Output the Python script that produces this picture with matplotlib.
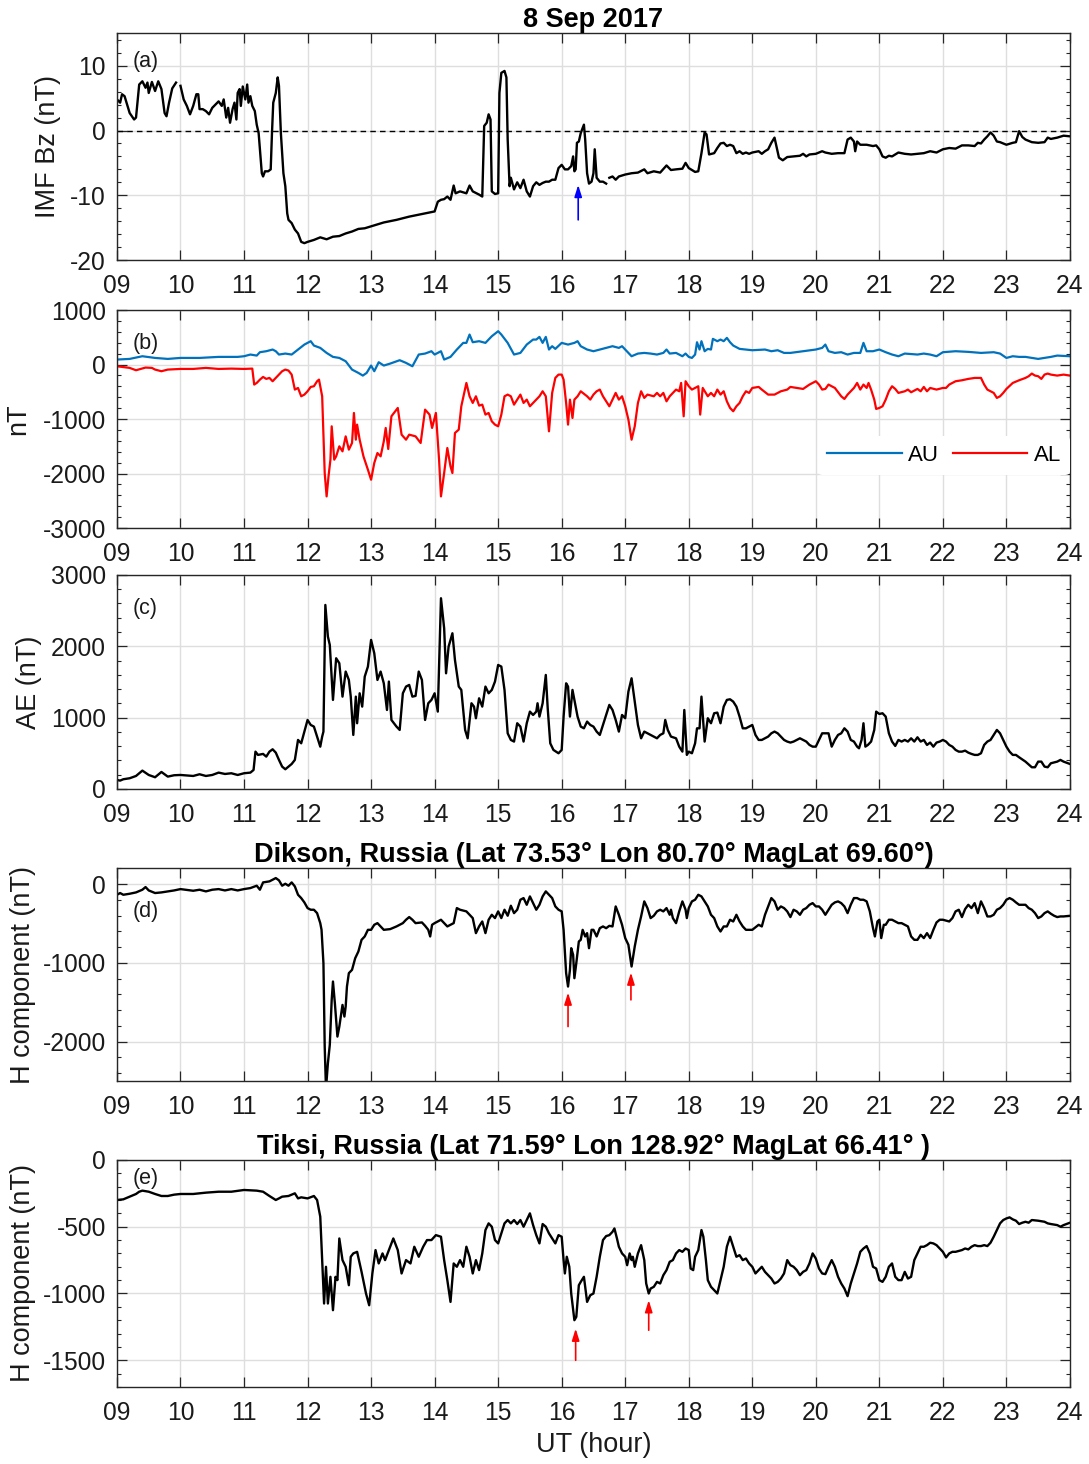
import numpy as np
import matplotlib
matplotlib.use("Agg")
import matplotlib.pyplot as plt
from matplotlib.ticker import AutoMinorLocator

plt.rcParams['font.family'] = ['Liberation Sans', 'DejaVu Sans']
plt.rcParams['axes.unicode_minus'] = False

# ---------------- data (UT hours / nT) ----------------
hours = list(range(9, 25))
hour_labels = ['%02d' % h for h in hours]

# (a) IMF Bz, nan = data gap
bz_t = [9.00, 9.05, 9.08, 9.12, 9.20, 9.27, 9.30, 9.35, 9.40, 9.45, 9.48, 9.50, 9.55, 9.60,
        9.65, 9.70, 9.75, 9.78, 9.82, 9.87, 9.93, 9.96, 10.00, 10.05, 10.10, 10.15, 10.20,
        10.25, 10.28, 10.30, 10.35, 10.40, 10.45, 10.50, 10.55, 10.60, 10.65, 10.68, 10.72,
        10.75, 10.78, 10.82, 10.85, 10.88, 10.90, 10.93, 10.95, 10.98, 11.02, 11.05, 11.07,
        11.10, 11.13, 11.17, 11.20, 11.23, 11.25, 11.28, 11.30, 11.33, 11.38, 11.42, 11.44,
        11.46, 11.50, 11.53, 11.55, 11.58, 11.62, 11.65, 11.68, 11.70, 11.75, 11.80, 11.85,
        11.90, 11.95, 12.00, 12.10, 12.20, 12.30, 12.40, 12.50, 12.60, 12.70, 12.80, 12.90,
        13.00, 13.20, 13.40, 13.60, 13.80, 14.00, 14.05, 14.10, 14.15, 14.20, 14.25, 14.30,
        14.33, 14.40, 14.50, 14.55, 14.60, 14.70, 14.75, 14.78, 14.82, 14.85, 14.88, 14.90,
        14.95, 15.00, 15.02, 15.05, 15.10, 15.13, 15.15, 15.18, 15.20, 15.25, 15.30, 15.35,
        15.40, 15.45, 15.50, 15.55, 15.60, 15.65, 15.70, 15.75, 15.80, 15.85, 15.90, 15.95,
        16.00, 16.05, 16.10, 16.15, 16.18, 16.20, 16.22, 16.24, 16.27, 16.30, 16.33, 16.35,
        16.37, 16.40, 16.43, 16.47, 16.50, 16.52, 16.55, 16.60, 16.65, 16.70, 16.72, 16.75,
        16.80, 16.85, 16.90, 17.00, 17.10, 17.20, 17.30, 17.35, 17.45, 17.55, 17.65, 17.72,
        17.80, 17.90, 17.95, 18.00, 18.10, 18.15, 18.20, 18.25, 18.28, 18.32, 18.40, 18.45,
        18.50, 18.55, 18.60, 18.65, 18.70, 18.75, 18.80, 18.85, 18.90, 18.95, 19.00, 19.10,
        19.15, 19.20, 19.25, 19.30, 19.35, 19.38, 19.42, 19.48, 19.55, 19.65, 19.75, 19.80,
        19.85, 19.90, 20.00, 20.10, 20.15, 20.25, 20.35, 20.45, 20.50, 20.55, 20.60, 20.62,
        20.65, 20.70, 20.80, 20.90, 20.95, 21.00, 21.05, 21.10, 21.15, 21.20, 21.30, 21.40,
        21.50, 21.60, 21.70, 21.80, 21.90, 22.00, 22.10, 22.20, 22.30, 22.40, 22.50, 22.55,
        22.60, 22.65, 22.70, 22.75, 22.80, 22.85, 22.90, 22.95, 23.00, 23.10, 23.15, 23.20,
        23.25, 23.30, 23.40, 23.50, 23.60, 23.65, 23.70, 23.80, 23.90, 24.00]
bz = [4.8, 4.3, 5.6, 5.3, 2.7, 1.7, 2.0, 7.1, 7.6, 6.6, 7.4, 5.8, 7.5, 6.1,
      7.6, 6.4, 2.7, 2.2, 4.3, 6.5, 7.4, np.nan, 6.9, 4.8, 3.8, 2.5, 3.8,
      5.6, 5.6, 3.3, 3.3, 3.0, 2.5, 3.5, 4.0, 4.5, 3.8, 4.8, 2.0,
      3.5, 1.2, 3.3, 4.3, 1.7, 5.8, 6.4, 3.8, 6.8, 4.8, 7.1, 4.3,
      5.3, 3.8, 3.0, 0.9, -0.4, -2.9, -6.6, -7.1, -6.3, -6.3, -6.0, -0.4,
      4.3, 5.8, 8.2, 6.9, -0.4, -6.6, -8.6, -12.8, -13.8, -14.3, -15.3, -15.9,
      -17.2, -17.4, -17.2, -16.9, -16.5, -16.8, -16.4, -16.3, -15.9, -15.6, -15.2, -15.1,
      -14.8, -14.2, -13.8, -13.3, -12.9, -12.5, -11.0, -10.7, -10.6, -10.2, -10.7, -8.5,
      -9.7, -9.4, -9.7, -8.5, -9.4, -9.9, -10.2, 0.7, 1.2, 2.5, 1.7, -9.4,
      -9.8, -9.7, 5.8, 8.9, 9.2, 8.2, -1.4, -8.6, -7.3, -9.1, -8.0, -8.9,
      -7.6, -9.4, -10.2, -8.6, -8.0, -8.4, -8.1, -7.9, -7.9, -7.6, -7.6, -5.8,
      -5.3, -6.0, -6.0, -5.5, -4.0, -6.3, -6.0, -1.9, -1.7, -0.4, 0.4, 0.9,
      -1.4, -6.6, -8.2, -7.9, -6.6, -2.9, -7.3, -7.9, -7.9, -8.2, np.nan, -7.3,
      -7.1, -7.6, -7.1, -6.8, -6.6, -6.5, -6.0, -6.6, -6.3, -6.5, -5.4, -6.1,
      -6.0, -5.9, -5.0, -5.8, -6.4, -6.3, -3.5, -0.3, -0.6, -3.7, -3.5, -2.7,
      -2.0, -1.9, -2.4, -2.2, -2.4, -3.5, -3.2, -3.6, -3.4, -3.6, -3.4, -3.2,
      -3.6, -3.2, -2.9, -1.9, -1.1, -2.4, -4.2, -4.6, -4.1, -4.0, -3.9, -3.6,
      -4.0, -3.7, -3.6, -3.2, -3.4, -3.6, -3.5, -3.5, -1.4, -1.1, -1.7, -3.2,
      -1.7, -2.2, -2.2, -2.4, -2.3, -2.9, -4.0, -4.2, -3.9, -4.0, -3.4, -3.6,
      -3.7, -3.6, -3.5, -3.2, -3.4, -2.9, -2.7, -2.8, -2.3, -2.3, -2.4, -1.9,
      -2.0, -1.4, -0.9, -0.3, -0.8, -1.7, -1.8, -2.0, -2.2, -1.9, -1.8, -0.1,
      -1.0, -1.4, -1.8, -1.9, -1.8, -1.1, -1.3, -1.1, -0.8, -0.9]

# (b) AU and AL indices
au_t = [9.0, 9.2, 9.4, 9.6, 9.8, 10.0, 10.3, 10.6, 10.9, 11.0, 11.1, 11.2, 11.25, 11.35,
        11.45, 11.5, 11.55, 11.65, 11.75, 11.85, 11.95, 12.05, 12.1, 12.2, 12.3, 12.4, 12.5,
        12.6, 12.7, 12.8, 12.87, 12.93, 13.0, 13.05, 13.12, 13.2, 13.3, 13.45, 13.55, 13.65,
        13.75, 13.85, 13.95, 14.0, 14.1, 14.15, 14.25, 14.35, 14.45, 14.5, 14.55, 14.6, 14.7,
        14.8, 14.9, 15.0, 15.05, 15.15, 15.25, 15.35, 15.45, 15.55, 15.6, 15.65, 15.7, 15.75,
        15.8, 15.85, 15.9, 16.0, 16.1, 16.2, 16.25, 16.3, 16.4, 16.5, 16.6, 16.7, 16.8, 16.9,
        16.95, 17.0, 17.1, 17.2, 17.3, 17.4, 17.5, 17.6, 17.65, 17.7, 17.8, 17.9, 17.95, 18.0,
        18.05, 18.1, 18.13, 18.17, 18.2, 18.25, 18.3, 18.35, 18.38, 18.45, 18.5, 18.55, 18.6,
        18.65, 18.7, 18.8, 18.9, 19.0, 19.2, 19.3, 19.4, 19.5, 19.6, 19.8, 20.0, 20.1, 20.15,
        20.2, 20.3, 20.4, 20.5, 20.6, 20.7, 20.75, 20.8, 20.9, 21.0, 21.1, 21.2, 21.3, 21.4,
        21.6, 21.7, 21.8, 21.9, 22.0, 22.2, 22.4, 22.6, 22.8, 22.9, 23.0, 23.1, 23.2, 23.3,
        23.4, 23.5, 23.6, 23.7, 23.8, 24.0]
au = [92, 104, 153, 122, 104, 122, 122, 141, 141, 153, 184, 165, 227, 245,
      276, 245, 184, 202, 184, 276, 367, 429, 349, 306, 214, 141, 122,
      61, -92, -153, -202, -153, -18, -122, 43, -18, 18, 80, 31, -31,
      184, 202, 245, 184, 245, 92, 141, 276, 398, 398, 551, 410, 429,
      398, 520, 612, 551, 398, 184, 214, 367, 459, 459, 508, 398, 508,
      276, 337, 288, 398, 367, 398, 429, 337, 276, 245, 276, 306, 337, 306,
      337, 276, 153, 202, 214, 202, 184, 214, 276, 202, 214, 153, 202, 141,
      122, 184, 410, 276, 429, 245, 288, 276, 472, 429, 459, 429, 490,
      410, 349, 288, 276, 263, 276, 245, 263, 214, 214, 245, 276, 306, 367,
      245, 214, 227, 184, 214, 214, 398, 245, 245, 276, 227, 184, 153, 202,
      184, 202, 184, 153, 227, 245, 233, 214, 227, 202, 122, 153, 141, 141,
      122, 104, 122, 141, 165, 153]

al_t = [9.0, 9.2, 9.3, 9.45, 9.55, 9.6, 9.7, 9.8, 10.0, 10.2, 10.4, 10.6, 10.8, 11.0, 11.13,
        11.16, 11.2, 11.25, 11.3, 11.35, 11.4, 11.45, 11.5, 11.55, 11.6, 11.65, 11.7, 11.75,
        11.8, 11.85, 11.9, 11.95, 12.0, 12.05, 12.1, 12.15, 12.18, 12.2, 12.23, 12.27, 12.3,
        12.33, 12.36, 12.38, 12.42, 12.45, 12.5, 12.55, 12.6, 12.65, 12.7, 12.73, 12.76, 12.78,
        12.82, 12.88, 12.95, 13.0, 13.05, 13.1, 13.15, 13.2, 13.23, 13.27, 13.32, 13.38, 13.42,
        13.48, 13.55, 13.6, 13.7, 13.78, 13.85, 13.92, 13.96, 14.02, 14.07, 14.1, 14.15, 14.2,
        14.25, 14.28, 14.32, 14.38, 14.42, 14.5, 14.55, 14.6, 14.65, 14.7, 14.75, 14.8, 14.85,
        14.9, 14.95, 15.0, 15.05, 15.1, 15.15, 15.2, 15.25, 15.3, 15.35, 15.4, 15.45, 15.5,
        15.55, 15.6, 15.65, 15.7, 15.75, 15.8, 15.85, 15.9, 15.95, 16.0, 16.03, 16.07, 16.1,
        16.13, 16.17, 16.2, 16.25, 16.3, 16.4, 16.45, 16.5, 16.55, 16.6, 16.65, 16.7, 16.75,
        16.8, 16.85, 16.9, 16.95, 17.0, 17.05, 17.1, 17.15, 17.2, 17.25, 17.3, 17.35, 17.45,
        17.5, 17.55, 17.6, 17.65, 17.7, 17.8, 17.85, 17.88, 17.92, 17.95, 18.0, 18.05, 18.1,
        18.15, 18.18, 18.22, 18.3, 18.35, 18.4, 18.45, 18.5, 18.55, 18.6, 18.65, 18.7, 18.75,
        18.8, 18.85, 18.9, 18.95, 19.0, 19.1, 19.15, 19.25, 19.35, 19.45, 19.55, 19.6, 19.7,
        19.8, 19.9, 20.0, 20.05, 20.1, 20.15, 20.2, 20.3, 20.4, 20.45, 20.5, 20.6, 20.65, 20.7,
        20.75, 20.8, 20.83, 20.87, 20.92, 20.95, 21.0, 21.05, 21.1, 21.15, 21.2, 21.25, 21.3,
        21.4, 21.45, 21.5, 21.6, 21.65, 21.7, 21.75, 21.8, 21.9, 22.0, 22.05, 22.1, 22.2, 22.3,
        22.4, 22.5, 22.6, 22.65, 22.7, 22.8, 22.85, 22.9, 22.95, 23.0, 23.1, 23.2, 23.3, 23.35,
        23.4, 23.45, 23.5, 23.55, 23.6, 23.65, 23.7, 23.8, 23.9, 24.0]
al = [-31, -61, -104, -55, -61, -92, -122, -92, -80, -80, -61, -80, -74, -80, -74,
      -367, -337, -276, -227, -263, -245, -306, -245, -184, -122, -92, -110, -184,
      -459, -429, -582, -551, -490, -410, -398, -306, -276, -398, -582, -1990, -2419,
      -2051, -1745, -1133, -1745, -1684, -1500, -1592, -1317, -1561, -1439, -888, -1378, -1102,
      -1378, -1684, -1929, -2113, -1806, -1623, -1684, -1408, -1163, -1549, -949, -857, -796,
      -1286, -1378, -1286, -1317, -1439, -827, -918, -1163, -888, -1745, -2419, -1990, -1531,
      -1868, -1990, -1255, -1194, -765, -337, -582, -704, -582, -753, -735, -918, -888,
      -1041, -1102, -1133, -918, -582, -551, -582, -735, -643, -551, -704, -643, -765,
      -704, -643, -582, -490, -582, -1225, -520, -245, -184, -184, -276, -704, -1102,
      -643, -980, -643, -582, -490, -582, -643, -551, -490, -459, -582, -674, -765,
      -643, -520, -643, -582, -765, -1010, -1378, -1133, -704, -490, -612, -551, -582,
      -520, -582, -520, -674, -582, -459, -490, -337, -949, -306, -398, -459, -429,
      -398, -918, -429, -582, -520, -582, -459, -551, -490, -674, -796, -857, -765,
      -704, -582, -490, -520, -429, -410, -459, -551, -551, -490, -459, -410, -429,
      -447, -367, -306, -367, -459, -447, -367, -429, -582, -631, -551, -429, -337, -459,
      -367, -429, -337, -459, -643, -814, -796, -765, -643, -490, -398, -447, -520,
      -490, -459, -508, -447, -490, -410, -490, -429, -459, -429, -429, -367, -306, -288,
      -263, -245, -245, -367, -459, -520, -612, -582, -520, -447, -337, -288, -245, -214,
      -165, -202, -214, -263, -184, -165, -184, -202, -184, -202]

# (c) AE index
ae_t = [9.0, 9.05, 9.1, 9.2, 9.3, 9.4, 9.5, 9.6, 9.7, 9.8, 9.9, 10.0, 10.2, 10.3, 10.4, 10.5,
        10.6, 10.7, 10.8, 10.9, 11.0, 11.1, 11.15, 11.18, 11.22, 11.3, 11.35, 11.4, 11.45, 11.5,
        11.55, 11.6, 11.65, 11.7, 11.75, 11.8, 11.85, 11.9, 11.95, 12.0, 12.05, 12.1, 12.15,
        12.2, 12.23, 12.25, 12.28, 12.32, 12.35, 12.4, 12.45, 12.5, 12.55, 12.6, 12.65, 12.68,
        12.72, 12.76, 12.78, 12.82, 12.86, 12.9, 12.95, 13.0, 13.05, 13.1, 13.15, 13.2, 13.25,
        13.28, 13.32, 13.4, 13.45, 13.5, 13.55, 13.6, 13.65, 13.7, 13.75, 13.8, 13.85, 13.9,
        13.95, 14.0, 14.05, 14.1, 14.15, 14.18, 14.22, 14.28, 14.32, 14.38, 14.42, 14.48, 14.52,
        14.58, 14.62, 14.65, 14.7, 14.75, 14.8, 14.85, 14.9, 14.95, 15.0, 15.05, 15.1, 15.15,
        15.2, 15.25, 15.3, 15.35, 15.4, 15.45, 15.5, 15.55, 15.6, 15.62, 15.65, 15.7, 15.75,
        15.78, 15.82, 15.87, 15.95, 16.0, 16.03, 16.07, 16.1, 16.13, 16.17, 16.2, 16.25, 16.3,
        16.35, 16.4, 16.45, 16.5, 16.55, 16.6, 16.65, 16.7, 16.75, 16.8, 16.85, 16.9, 16.95,
        17.0, 17.05, 17.1, 17.15, 17.2, 17.25, 17.3, 17.35, 17.4, 17.45, 17.5, 17.55, 17.6,
        17.63, 17.67, 17.72, 17.8, 17.85, 17.9, 17.93, 17.97, 18.0, 18.05, 18.1, 18.13, 18.17,
        18.2, 18.25, 18.3, 18.35, 18.4, 18.45, 18.5, 18.55, 18.6, 18.65, 18.7, 18.75, 18.8,
        18.85, 18.9, 18.95, 19.0, 19.05, 19.1, 19.15, 19.2, 19.25, 19.3, 19.35, 19.4, 19.45,
        19.5, 19.55, 19.6, 19.65, 19.7, 19.75, 19.8, 19.85, 19.9, 19.95, 20.0, 20.05, 20.1,
        20.15, 20.2, 20.25, 20.3, 20.35, 20.4, 20.45, 20.5, 20.55, 20.6, 20.65, 20.68, 20.72,
        20.75, 20.78, 20.82, 20.87, 20.92, 20.95, 21.0, 21.05, 21.1, 21.15, 21.2, 21.25, 21.3,
        21.35, 21.4, 21.45, 21.5, 21.55, 21.6, 21.65, 21.7, 21.75, 21.8, 21.85, 21.9, 21.95,
        22.0, 22.05, 22.1, 22.15, 22.2, 22.25, 22.3, 22.35, 22.4, 22.45, 22.5, 22.55, 22.6,
        22.65, 22.7, 22.75, 22.8, 22.85, 22.9, 22.95, 23.0, 23.05, 23.1, 23.15, 23.2, 23.3,
        23.4, 23.45, 23.5, 23.55, 23.6, 23.65, 23.7, 23.8, 23.85, 23.9, 24.0]
ae = [126, 117, 136, 150, 182, 257, 196, 164, 238, 173, 192, 196, 182, 206, 182, 196,
      229, 210, 220, 196, 220, 229, 266, 523, 477, 491, 453, 523, 556, 509,
      407, 313, 276, 313, 350, 407, 687, 640, 804, 967, 897, 874, 734,
      593, 734, 804, 2579, 2136, 2019, 1248, 1832, 1762, 1294, 1645, 1528, 1294,
      757, 1294, 921, 1341, 1154, 1575, 1715, 2089, 1902, 1528, 1645, 1481, 1107,
      1505, 967, 874, 827, 1341, 1435, 1458, 1294, 1304, 1645, 1528, 967, 1201,
      1248, 1341, 1084, 2673, 2252, 1621, 1995, 2182, 1808, 1435, 1388, 827, 710,
      1201, 1154, 991, 1271, 1154, 1435, 1341, 1388, 1505, 1738, 1715, 1388, 780,
      687, 664, 921, 874, 664, 921, 1084, 1037, 1084, 1201, 1014, 1201, 1598,
      1131, 640, 547, 500, 547, 1014, 1481, 1435, 1014, 1388, 1248, 1014, 874,
      850, 944, 897, 874, 804, 757, 897, 1037, 1178, 1107, 967, 804, 1037,
      991, 1364, 1551, 1224, 897, 710, 804, 780, 757, 734, 710, 757, 780,
      967, 827, 734, 710, 593, 523, 1107, 477, 523, 500, 640, 850, 850,
      1294, 664, 991, 921, 1061, 1070, 921, 1154, 1248, 1257, 1224, 1154, 1014,
      850, 850, 874, 897, 757, 687, 687, 710, 734, 780, 804, 780, 734,
      687, 664, 650, 664, 687, 710, 687, 664, 617, 593, 593, 687, 780,
      780, 780, 593, 687, 757, 780, 850, 804, 687, 664, 593, 570, 687,
      921, 593, 617, 664, 827, 1084, 1051, 1061, 1014, 780, 664, 603, 687,
      664, 687, 664, 710, 664, 724, 664, 687, 617, 650, 593, 650, 664,
      687, 664, 617, 593, 547, 523, 523, 537, 509, 491, 477, 477, 500,
      617, 664, 687, 757, 827, 780, 687, 593, 523, 477, 477, 444, 383,
      304, 304, 383, 383, 313, 304, 360, 383, 407, 383, 350]

# (d) Dikson H component
dik_t = [9.0, 9.05, 9.1, 9.2, 9.3, 9.4, 9.45, 9.5, 9.6, 9.7, 9.8, 9.9, 10.0, 10.2, 10.3, 10.4,
         10.5, 10.6, 10.7, 10.8, 10.9, 11.0, 11.1, 11.2, 11.25, 11.3, 11.4, 11.5, 11.55, 11.6,
         11.65, 11.7, 11.75, 11.8, 11.85, 11.9, 11.95, 12.0, 12.05, 12.1, 12.15, 12.2, 12.22,
         12.25, 12.27, 12.29, 12.32, 12.35, 12.38, 12.4, 12.43, 12.47, 12.5, 12.55, 12.58, 12.6,
         12.62, 12.65, 12.7, 12.75, 12.8, 12.85, 12.9, 12.95, 13.0, 13.05, 13.1, 13.15, 13.2,
         13.3, 13.4, 13.5, 13.55, 13.6, 13.65, 13.7, 13.8, 13.85, 13.9, 13.93, 13.96, 14.0,
         14.05, 14.1, 14.15, 14.2, 14.3, 14.35, 14.4, 14.5, 14.6, 14.65, 14.7, 14.75, 14.8,
         14.85, 14.9, 14.95, 15.0, 15.05, 15.1, 15.15, 15.2, 15.25, 15.3, 15.35, 15.4, 15.45,
         15.5, 15.6, 15.65, 15.7, 15.75, 15.8, 15.85, 15.9, 15.95, 16.0, 16.03, 16.07, 16.1,
         16.13, 16.15, 16.18, 16.2, 16.23, 16.27, 16.3, 16.33, 16.37, 16.4, 16.43, 16.47, 16.5,
         16.55, 16.6, 16.65, 16.7, 16.75, 16.8, 16.85, 16.9, 16.95, 17.0, 17.05, 17.1, 17.15,
         17.2, 17.25, 17.3, 17.35, 17.4, 17.45, 17.5, 17.55, 17.6, 17.65, 17.7, 17.72, 17.75,
         17.8, 17.85, 17.9, 17.95, 17.97, 18.0, 18.05, 18.1, 18.15, 18.2, 18.25, 18.3, 18.35,
         18.4, 18.45, 18.5, 18.55, 18.6, 18.65, 18.7, 18.75, 18.8, 18.85, 18.9, 19.0, 19.1,
         19.15, 19.2, 19.25, 19.3, 19.35, 19.4, 19.45, 19.5, 19.55, 19.6, 19.65, 19.7, 19.75,
         19.8, 19.85, 19.9, 19.95, 20.0, 20.05, 20.1, 20.15, 20.2, 20.25, 20.3, 20.35, 20.4,
         20.45, 20.5, 20.55, 20.6, 20.65, 20.7, 20.75, 20.8, 20.85, 20.9, 20.93, 20.97, 21.0,
         21.03, 21.07, 21.1, 21.15, 21.2, 21.25, 21.3, 21.35, 21.4, 21.45, 21.5, 21.55, 21.6,
         21.65, 21.7, 21.75, 21.8, 21.85, 21.9, 21.95, 22.0, 22.1, 22.15, 22.2, 22.25, 22.3,
         22.35, 22.4, 22.45, 22.5, 22.55, 22.6, 22.65, 22.7, 22.75, 22.8, 22.85, 22.9, 22.95,
         23.0, 23.05, 23.1, 23.15, 23.2, 23.25, 23.3, 23.35, 23.4, 23.45, 23.5, 23.55, 23.6,
         23.65, 23.7, 23.75, 23.8, 23.85, 23.9, 24.0]
dik = [-136, -114, -136, -123, -106, -72, -38, -81, -114, -106, -93, -81, -64, -85, -72, -93,
       -72, -64, -81, -64, -81, -64, -51, -21, -72, 21, 34, 76, 47, -21,
       4, -21, 21, -30, -136, -178, -233, -305, -326, -326, -369, -496, -580,
       -1004, -2064, -2600, -2275, -2042, -1470, -1237, -1513, -1936, -1809, -1534, -1682, -1555,
       -1301, -1131, -1089, -941, -856, -708, -665, -581, -581, -517, -496, -538, -581,
       -572, -538, -496, -453, -419, -453, -496, -487, -530, -581, -665, -517, -496,
       -475, -453, -496, -538, -496, -305, -326, -347, -432, -623, -538, -475, -623,
       -453, -390, -432, -347, -432, -326, -402, -275, -369, -326, -199, -178, -263,
       -157, -326, -263, -157, -93, -136, -178, -284, -326, -347, -581, -1131, -1301,
       -1089, -814, -898, -1195, -1004, -729, -708, -581, -665, -623, -814, -581, -581,
       -665, -560, -538, -560, -530, -538, -284, -390, -517, -686, -771, -1047, -792,
       -581, -411, -220, -305, -432, -402, -347, -326, -347, -305, -390, -326, -432,
       -496, -347, -220, -326, -432, -305, -220, -199, -136, -157, -220, -284, -390,
       -432, -538, -602, -538, -538, -453, -475, -390, -475, -538, -581, -581, -517,
       -538, -390, -284, -178, -220, -326, -284, -305, -347, -419, -326, -347, -390,
       -326, -305, -263, -242, -284, -284, -326, -390, -326, -263, -233, -220, -242,
       -284, -369, -263, -178, -178, -199, -199, -220, -347, -559, -665, -475, -453,
       -686, -517, -517, -453, -453, -475, -496, -496, -517, -538, -665, -708, -708,
       -644, -686, -623, -686, -581, -487, -453, -453, -475, -432, -347, -326, -419,
       -318, -263, -305, -242, -369, -220, -305, -411, -411, -390, -326, -305, -263,
       -199, -178, -199, -233, -263, -263, -263, -305, -326, -369, -432, -411, -369,
       -347, -377, -402, -419, -411, -411, -403]

# (e) Tiksi H component
tik_t = [9.0, 9.1, 9.2, 9.3, 9.35, 9.4, 9.5, 9.6, 9.7, 9.8, 9.9, 10.0, 10.2, 10.4, 10.6, 10.8,
         11.0, 11.2, 11.3, 11.4, 11.5, 11.55, 11.6, 11.7, 11.8, 11.85, 11.9, 12.0, 12.1, 12.15,
         12.2, 12.23, 12.26, 12.29, 12.32, 12.36, 12.4, 12.44, 12.47, 12.5, 12.55, 12.6, 12.65,
         12.68, 12.72, 12.78, 12.85, 12.92, 12.97, 13.02, 13.07, 13.12, 13.18, 13.22, 13.28,
         13.35, 13.42, 13.48, 13.55, 13.62, 13.68, 13.75, 13.82, 13.88, 13.95, 14.02, 14.1,
         14.15, 14.2, 14.25, 14.3, 14.35, 14.4, 14.45, 14.5, 14.55, 14.6, 14.65, 14.7, 14.75,
         14.8, 14.85, 14.9, 14.95, 15.0, 15.05, 15.1, 15.15, 15.2, 15.25, 15.3, 15.35, 15.4,
         15.45, 15.5, 15.55, 15.6, 15.65, 15.7, 15.75, 15.8, 15.85, 15.9, 15.95, 16.0, 16.03,
         16.05, 16.08, 16.12, 16.15, 16.2, 16.23, 16.27, 16.3, 16.35, 16.4, 16.45, 16.5, 16.55,
         16.6, 16.65, 16.7, 16.75, 16.8, 16.83, 16.87, 16.9, 16.95, 17.0, 17.03, 17.07, 17.1,
         17.12, 17.15, 17.2, 17.25, 17.3, 17.33, 17.37, 17.4, 17.45, 17.5, 17.55, 17.6, 17.65,
         17.7, 17.75, 17.8, 17.85, 17.9, 17.95, 18.0, 18.03, 18.07, 18.1, 18.15, 18.2, 18.23,
         18.27, 18.3, 18.35, 18.4, 18.45, 18.5, 18.55, 18.6, 18.65, 18.7, 18.75, 18.8, 18.85,
         18.9, 18.95, 19.0, 19.05, 19.1, 19.15, 19.2, 19.25, 19.3, 19.35, 19.4, 19.45, 19.5,
         19.55, 19.6, 19.65, 19.7, 19.75, 19.8, 19.85, 19.9, 19.95, 20.0, 20.05, 20.1, 20.15,
         20.2, 20.25, 20.3, 20.35, 20.4, 20.45, 20.5, 20.55, 20.6, 20.65, 20.7, 20.75, 20.8,
         20.85, 20.9, 20.95, 21.0, 21.05, 21.1, 21.15, 21.2, 21.25, 21.3, 21.35, 21.4, 21.45,
         21.5, 21.55, 21.6, 21.65, 21.7, 21.75, 21.8, 21.85, 21.9, 21.95, 22.0, 22.05, 22.1,
         22.15, 22.2, 22.3, 22.35, 22.4, 22.45, 22.5, 22.55, 22.6, 22.65, 22.7, 22.75, 22.8,
         22.85, 22.9, 22.95, 23.0, 23.05, 23.1, 23.15, 23.2, 23.25, 23.3, 23.35, 23.4, 23.5,
         23.6, 23.65, 23.7, 23.8, 23.85, 23.9, 24.0]
tik = [-300, -295, -275, -255, -238, -230, -238, -255, -270, -270, -260, -255, -255, -245, -238, -238,
       -225, -230, -238, -270, -300, -288, -275, -270, -250, -288, -280, -288, -270, -300,
       -425, -750, -1075, -800, -1075, -875, -1125, -875, -900, -588, -750, -800, -938,
       -725, -700, -688, -838, -1000, -1088, -850, -675, -775, -700, -750, -675,
       -588, -675, -850, -750, -775, -650, -725, -650, -600, -600, -563, -575,
       -750, -900, -1063, -775, -800, -750, -800, -650, -725, -850, -750, -825, -700,
       -525, -475, -500, -600, -625, -550, -475, -450, -475, -450, -480, -450, -500,
       -450, -400, -488, -563, -625, -480, -500, -550, -588, -625, -563, -575, -750,
       -850, -725, -800, -1000, -1200, -1175, -938, -913, -875, -1063, -1013, -1000, -875,
       -725, -600, -570, -563, -538, -513, -588, -650, -700, -725, -788, -700, -750,
       -725, -800, -700, -638, -750, -925, -1000, -963, -950, -913, -925, -863, -825,
       -763, -750, -700, -675, -688, -663, -675, -813, -825, -725, -675, -525, -575,
       -750, -900, -950, -975, -1000, -900, -800, -650, -575, -650, -725, -713, -750,
       -738, -775, -800, -850, -825, -800, -838, -863, -888, -925, -913, -888, -850,
       -750, -788, -800, -825, -863, -838, -825, -775, -700, -738, -813, -850, -855,
       -800, -750, -800, -875, -925, -963, -1020, -925, -850, -775, -688, -663, -645,
       -700, -800, -813, -900, -913, -875, -800, -775, -875, -900, -900, -838, -888,
       -875, -750, -700, -650, -650, -638, -620, -625, -638, -663, -688, -730, -700,
       -688, -688, -675, -663, -670, -650, -638, -645, -645, -638, -645, -620, -575,
       -525, -475, -450, -438, -430, -445, -455, -480, -470, -463, -470, -450, -455,
       -463, -475, -480, -488, -500, -488, -470]

# arrows: time, tail value, tip value
bz_arrow = (16.26, -13.8, -8.4)
dik_arrows_t = [16.10, 17.09]
dik_arrows_tail = [-1809, -1470]
dik_arrows_tip = [-1377, -1123]
tik_arrows_t = [16.22, 17.37]
tik_arrows_tail = [-1500, -1275]
tik_arrows_tip = [-1263, -1050]

# ---------------- figure ----------------
fig = plt.figure(figsize=(10.89, 14.64), dpi=100)
L, W = 0.1074, 0.8751
ax_a = fig.add_axes([L, 0.8224, W, 0.1548])
ax_b = fig.add_axes([L, 0.6393, W, 0.1489])
ax_c = fig.add_axes([L, 0.4611, W, 0.1462])
ax_d = fig.add_axes([L, 0.2616, W, 0.1453])
ax_e = fig.add_axes([L, 0.0526, W, 0.1551])

DARK = '#262626'


def style(ax, ylim, yticks, ylab, lab_x, tag, tag_y):
    ax.set_xlim(9, 24)
    ax.set_ylim(*ylim)
    ax.set_xticks(hours)
    ax.set_xticklabels(hour_labels)
    ax.set_yticks(yticks)
    ax.yaxis.set_minor_locator(AutoMinorLocator(5))
    ax.tick_params(which='both', direction='in', top=True, right=True,
                   labelsize=17.7, color=DARK, labelcolor='#1a1a1a')
    ax.tick_params(which='major', length=7, width=0.9)
    ax.tick_params(which='minor', length=3.2, width=0.8)
    ax.tick_params(axis='x', which='minor', top=False, bottom=False)
    ax.tick_params(axis='x', which='major', pad=10)
    ax.tick_params(axis='y', which='major', pad=8)
    ax.grid(True, which='major', color='#dedede', lw=1.0)
    ax.set_axisbelow(True)
    for s in ax.spines.values():
        s.set_color(DARK)
        s.set_linewidth(1.0)
    ax.set_ylabel(ylab, fontsize=19.5, color='#1a1a1a')
    ax.yaxis.set_label_coords(lab_x, 0.5)
    ax.yaxis.label.set_verticalalignment('center')
    ax.text(0.016, tag_y, tag, transform=ax.transAxes, fontsize=15.5,
            va='center', ha='left', color='#1a1a1a')


def arrow(ax, t, tail, tip, color):
    ax.annotate('', xy=(t, tip), xytext=(t, tail),
                arrowprops=dict(arrowstyle='-|>,head_width=0.22,head_length=0.7',
                                color=color, lw=1.2, shrinkA=0, shrinkB=0))


# (a)
ax_a.plot(bz_t, bz, color='k', lw=1.7)
ax_a.axhline(0, color='k', lw=1.0, ls=(0, (4, 3)))
arrow(ax_a, *bz_arrow, 'b')
style(ax_a, (-20, 15), [-20, -10, 0, 10], 'IMF Bz (nT)', -0.0719, '(a)', 0.875)
ax_a.set_title('8 Sep 2017', fontsize=19.5, fontweight='bold', pad=4.5)

# (b)
ax_b.plot(au_t, au, color='#0072BD', lw=1.6, label='AU')
ax_b.plot(al_t, al, color='#FF0000', lw=1.6, label='AL')
style(ax_b, (-3000, 1000), [-3000, -2000, -1000, 0, 1000], 'nT', -0.1034, '(b)', 0.847)
leg = ax_b.legend(loc='lower right', bbox_to_anchor=(1.0, 0.243), ncol=2, fontsize=16,
                  frameon=True, framealpha=1, edgecolor='none', facecolor='white',
                  handlelength=3.35, handletextpad=0.3, columnspacing=0.6,
                  borderpad=0.4, borderaxespad=0)

# (c)
ax_c.plot(ae_t, ae, color='k', lw=1.7)
style(ax_c, (0, 3000), [0, 1000, 2000, 3000], 'AE (nT)', -0.0919, '(c)', 0.844)

# (d)
ax_d.plot(dik_t, dik, color='k', lw=1.7)
for t, a0, a1 in zip(dik_arrows_t, dik_arrows_tail, dik_arrows_tip):
    arrow(ax_d, t, a0, a1, 'r')
style(ax_d, (-2500, 200), [-2000, -1000, 0], 'H component (nT)', -0.0986, '(d)', 0.796)
ax_d.set_title('Dikson, Russia (Lat 73.53\u00b0 Lon 80.70\u00b0 MagLat 69.60\u00b0)',
               fontsize=19.5, fontweight='bold', pad=4.5)

# (e)
ax_e.plot(tik_t, tik, color='k', lw=1.7)
for t, a0, a1 in zip(tik_arrows_t, tik_arrows_tail, tik_arrows_tip):
    arrow(ax_e, t, a0, a1, 'r')
style(ax_e, (-1700, 0), [-1500, -1000, -500, 0], 'H component (nT)', -0.0986, '(e)', 0.919)
ax_e.set_title('Tiksi, Russia (Lat 71.59\u00b0 Lon 128.92\u00b0 MagLat 66.41\u00b0 )',
               fontsize=19.5, fontweight='bold', pad=4.5)
ax_e.set_xlabel('UT (hour)', fontsize=19.5, labelpad=5, color='#1a1a1a')

fig.savefig('out.png', dpi=100)
